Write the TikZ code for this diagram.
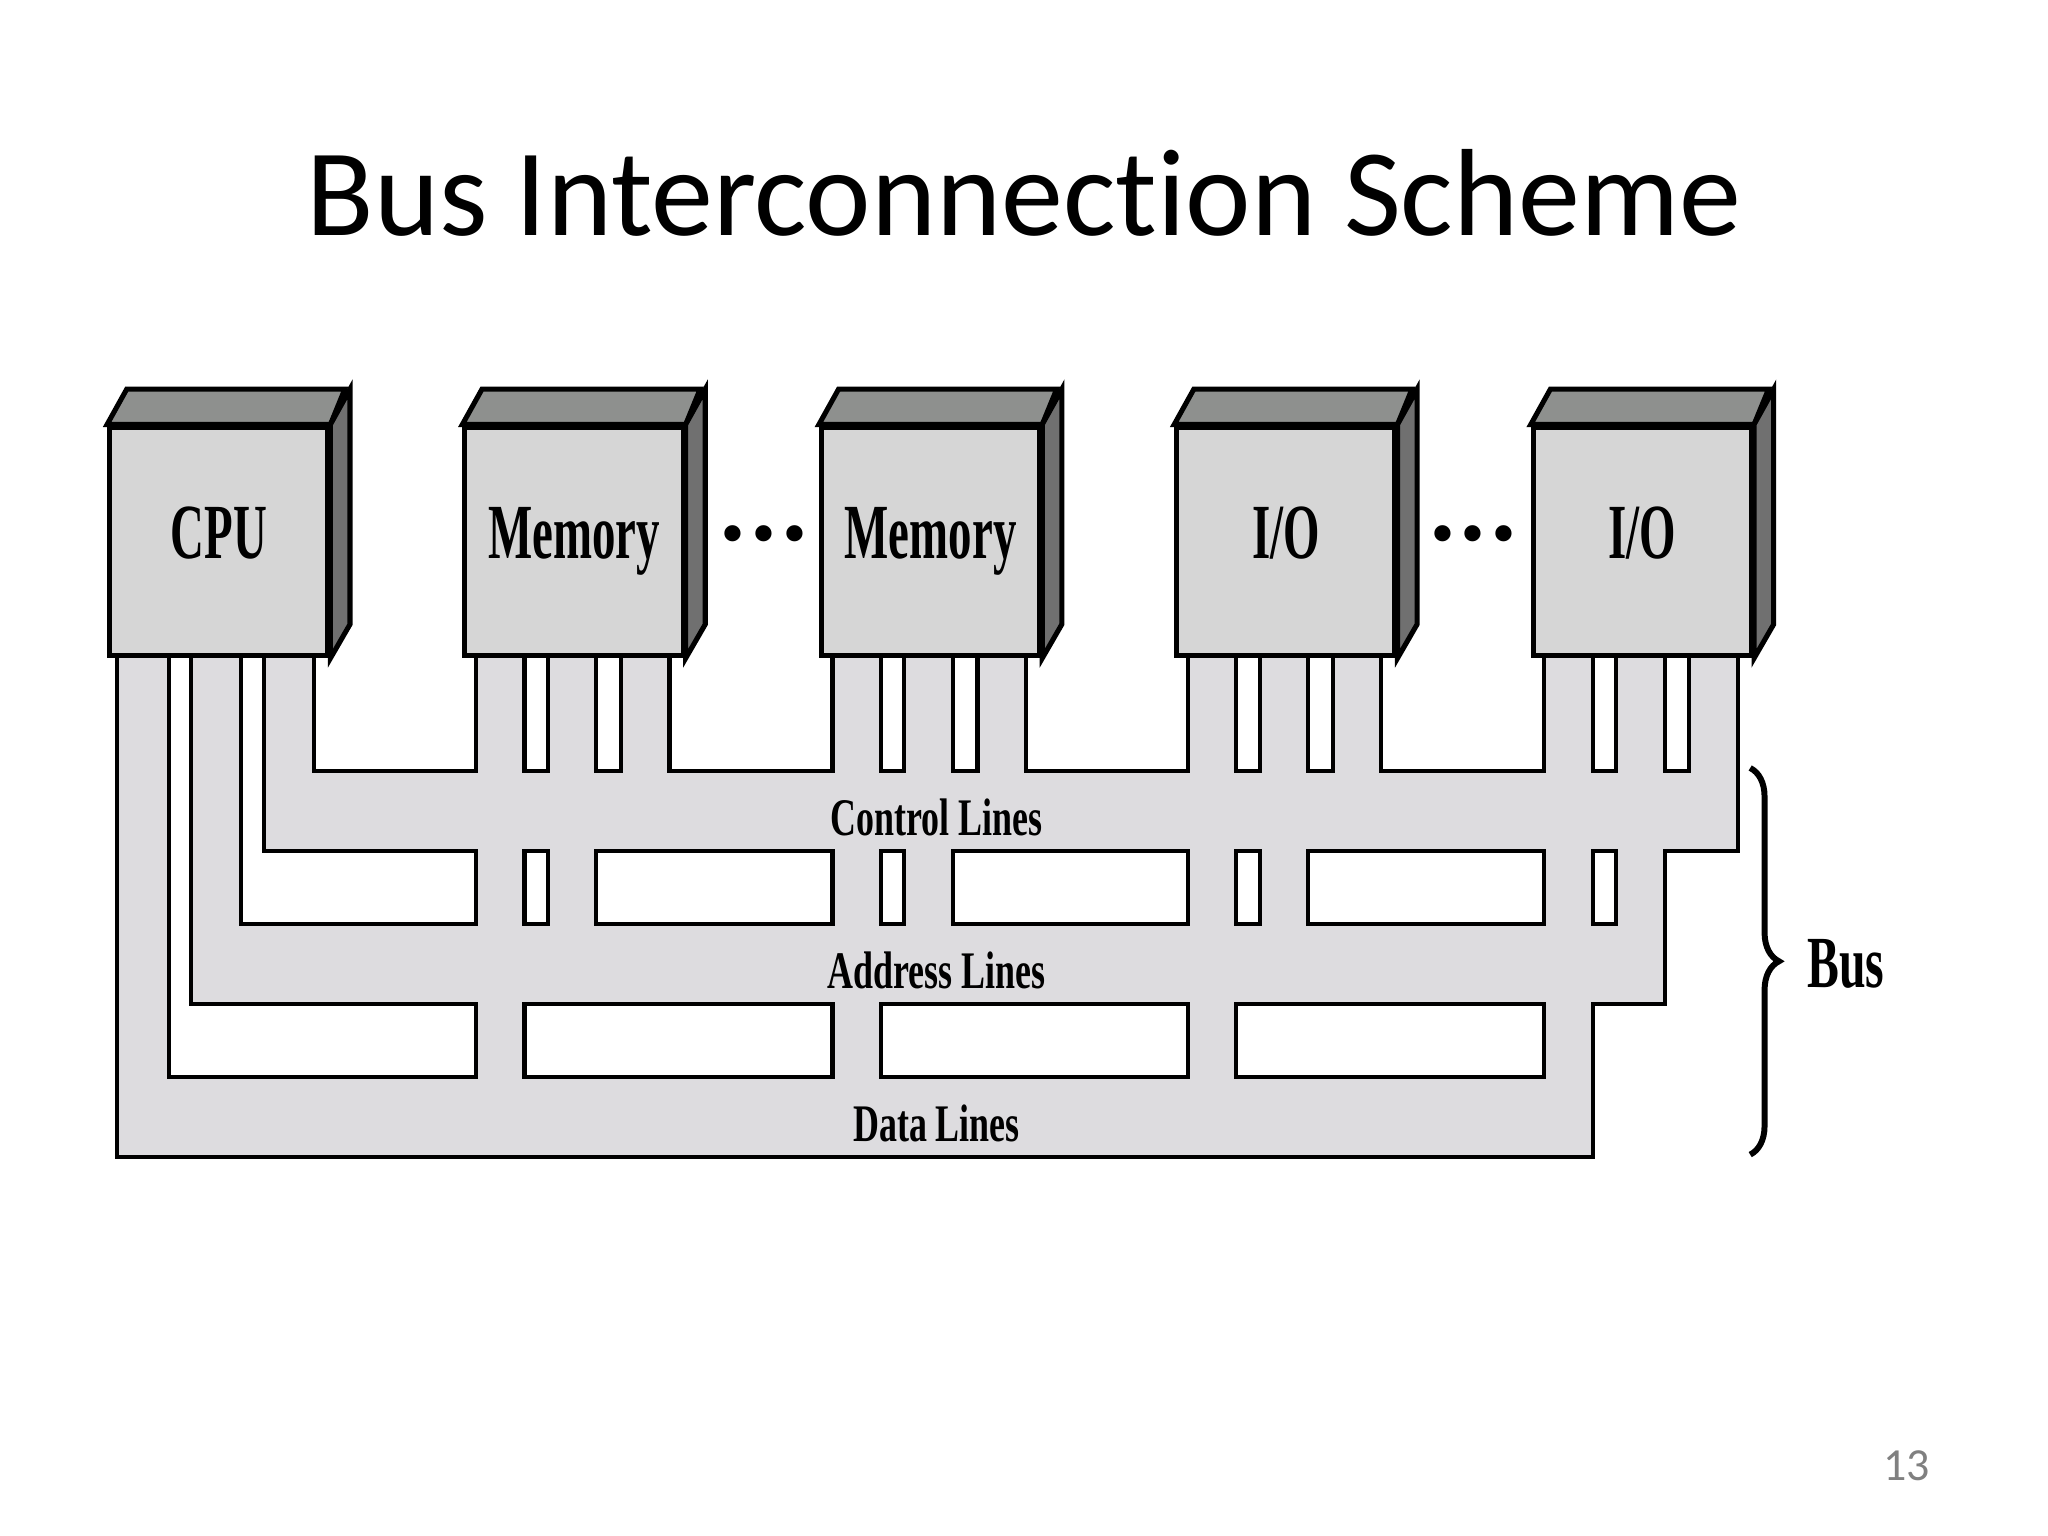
\documentclass[tikz,border=0pt]{standalone}
\usepackage{fontspec}
\setmainfont{Liberation Serif}
\newfontfamily\titlefont{Carlito}[Ligatures=NoCommon]
\usetikzlibrary{decorations.pathreplacing}

\definecolor{facegray}{RGB}{214,214,214}
\definecolor{topgray}{RGB}{142,144,142}
\definecolor{sidegray}{RGB}{112,112,112}
\definecolor{busgray}{RGB}{221,220,223}

\tikzset{
  modbox/.style={draw=black, line width=1.1pt, fill=facegray, minimum width=1.67cm,
    minimum height=1.75cm, inner sep=0pt, font=\fontsize{17}{20}\selectfont\bfseries},
  buslabel/.style={font=\fontsize{11.5}{14}\selectfont\bfseries, inner sep=0pt},
  dots/.style={font=\fontsize{13}{16}\selectfont\bfseries, inner sep=0pt}
}

\begin{document}
\begin{tikzpicture}[x=0.01cm, y=-0.01cm]
  \useasboundingbox (0,0) rectangle (1568,1176);

  \node[font=\titlefont\fontsize{27}{32}\selectfont] (title) at (784,148) {Bus Interconnection Scheme};

  % bus channels: outline pass, then fill pass
  \foreach \pass in {1,2}{
    \ifnum\pass=1 \tikzset{chan/.style={draw=black, line width=1.8pt}}
    \else \tikzset{chan/.style={fill=busgray}} \fi
    \path[chan] (204,592) rectangle (1329,650);
    \path[chan] (148,709) rectangle (1272,767);
    \path[chan] (91,826) rectangle (1216,884);
    \path[chan] (91,495) rectangle (128,884);
    \path[chan] (148,495) rectangle (183,767);
    \path[chan] (204,495) rectangle (239,650);
    \foreach \xo in {354,627,899,1172}{
      \path[chan] (\xo+12,495) rectangle (\xo+46,884);
      \path[chan] (\xo+67,495) rectangle (\xo+101,767);
      \path[chan] (\xo+123,495) rectangle (\xo+157,650);
    }
  }

  % modules
  \foreach \name/\xo/\txt in {cpu/82/CPU, mema/354/Memory, memb/627/Memory, ioa/899/{I/O}, iob/1172/{I/O}}{
    \node[modbox, anchor=north west] (\name) at (\xo,325) {\scalebox{0.6}[1]{\txt\vphantom{y}}};
    \draw[line width=1.1pt, fill=topgray] (\name.north west) -- ++(15,-27) -- ++(167,0) -- (\name.north east) -- cycle;
    \draw[line width=1.1pt, fill=sidegray] (\name.north east) -- ++(15,-27) -- ++(0,180) -- (\name.south east) -- cycle;
  }
  \node[dots] (dotsa) at (585,413) {\textbullet\,\textbullet\,\textbullet};
  \node[dots] (dotsb) at (1128,413) {\textbullet\,\textbullet\,\textbullet};

  \node[buslabel] (ctrl) at (717,626) {\scalebox{0.68}[1]{Control Lines}};
  \node[buslabel] (addr) at (717,743) {\scalebox{0.68}[1]{Address Lines}};
  \node[buslabel] (data) at (717,860) {\scalebox{0.68}[1]{Data Lines}};

  \coordinate (bt) at (1340,588);
  \coordinate (bb) at (1340,884);
  \draw[line width=1.3pt, decorate, decoration={brace, amplitude=0.22cm}] (bt) -- (bb);
  \node[font=\fontsize{16}{19}\selectfont\bfseries, anchor=west, inner sep=0pt] (bus) at (1383,738) {\scalebox{0.65}[1]{Bus}};

  \node[font=\titlefont\fontsize{10}{12}\selectfont, text=gray] (page) at (1460,1122) {13};
\end{tikzpicture}
\end{document}
